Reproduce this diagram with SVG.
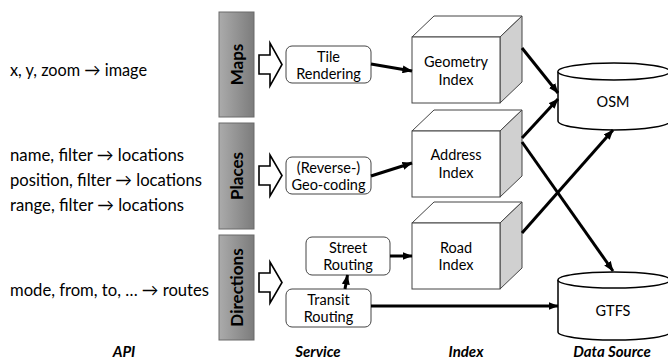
<svg xmlns="http://www.w3.org/2000/svg" width="668" height="360" viewBox="0 0 668 360">
  <defs>
    <linearGradient id="barFill" x1="0" y1="0" x2="1" y2="0">
      <stop offset="0" stop-color="#ababab"/>
      <stop offset="1" stop-color="#7c7c7c"/>
    </linearGradient>
    <marker id="head" viewBox="0 0 10 8" refX="9.5" refY="4" markerWidth="10" markerHeight="8" markerUnits="userSpaceOnUse" orient="auto">
      <path d="M0,0 L10,4 L0,8 Z" fill="#000"/>
    </marker>
    <style>
      .api { font-family: Lato, "Liberation Sans", sans-serif; font-size: 17px; fill: #000; }
      .col { font-family: Lato, "Liberation Sans", sans-serif; font-size: 15px; font-weight: bold; font-style: italic; fill: #000; text-anchor: middle; }
      .bar { fill: url(#barFill); stroke: #6a6a6a; stroke-width: 1; }
      .barlabel { font-family: Lato, "Liberation Sans", sans-serif; font-size: 17px; font-weight: bold; fill: #000; text-anchor: middle; }
      .blk { fill: #fff; stroke: #000; stroke-width: 1.6; stroke-linejoin: miter; }
      .svc { fill: #fff; stroke: #444; stroke-width: 1; }
      .lbl { font-family: Lato, "Liberation Sans", sans-serif; font-size: 14.5px; fill: #000; text-anchor: middle; }
      .front { fill: #fff; stroke: #444; stroke-width: 1; }
      .side { fill: #d0d0d0; stroke: #444; stroke-width: 1; }
      .cyl { fill: #fff; stroke: #000; stroke-width: 1.5; }
      .edge { fill: none; stroke: #000; stroke-width: 3; marker-end: url(#head); }
    </style>
  </defs>

  <rect width="668" height="360" fill="#fff"/>

  <!-- API column -->
  <g id="api">
    <text class="api" x="10" y="76" textLength="137" lengthAdjust="spacingAndGlyphs">x, y, zoom → image</text>
    <text class="api" x="10" y="161" textLength="174" lengthAdjust="spacingAndGlyphs">name, filter → locations</text>
    <text class="api" x="10" y="186" textLength="192" lengthAdjust="spacingAndGlyphs">position, filter → locations</text>
    <text class="api" x="10" y="211" textLength="174" lengthAdjust="spacingAndGlyphs">range, filter → locations</text>
    <text class="api" x="10" y="296" textLength="199" lengthAdjust="spacingAndGlyphs">mode, from, to, … → routes</text>
  </g>

  <!-- Category bars -->
  <g id="bar-maps">
    <rect class="bar" x="219" y="12" width="35" height="105"/>
    <text class="barlabel" transform="translate(242.5,64.5) rotate(-90)">Maps</text>
  </g>
  <g id="bar-places">
    <rect class="bar" x="219" y="123" width="35" height="106"/>
    <text class="barlabel" transform="translate(242.5,176) rotate(-90)">Places</text>
  </g>
  <g id="bar-directions">
    <rect class="bar" x="219" y="235" width="35" height="105"/>
    <text class="barlabel" transform="translate(242.5,287.5) rotate(-90)">Directions</text>
  </g>

  <!-- Block arrows -->
  <g id="blk-maps"><polygon class="blk" points="259,55 270,55 270,43 282,64.5 270,86 270,74 259,74"/></g>
  <g id="blk-places"><polygon class="blk" points="259,166 270,166 270,155 282,175.5 270,196 270,185 259,185"/></g>
  <g id="blk-directions"><polygon class="blk" points="259,273 270,273 270,262 282,282.5 270,303 270,292 259,292"/></g>

  <!-- Services -->
  <g id="svc-tile">
    <rect class="svc" x="286" y="46" width="85" height="37" rx="6"/>
    <text class="lbl" x="328.5" y="62">Tile</text>
    <text class="lbl" x="328.5" y="79">Rendering</text>
  </g>
  <g id="svc-geocoding">
    <rect class="svc" x="286" y="157" width="85" height="37" rx="6"/>
    <text class="lbl" x="328.5" y="173">(Reverse-)</text>
    <text class="lbl" x="328.5" y="190">Geo-coding</text>
  </g>
  <g id="svc-street">
    <rect class="svc" x="306" y="237" width="84" height="38" rx="6"/>
    <text class="lbl" x="348" y="253">Street</text>
    <text class="lbl" x="348" y="270">Routing</text>
  </g>
  <g id="svc-transit">
    <rect class="svc" x="286" y="289" width="85" height="38" rx="6"/>
    <text class="lbl" x="328.5" y="305">Transit</text>
    <text class="lbl" x="328.5" y="322">Routing</text>
  </g>

  <!-- Indexes -->
  <g id="idx-geometry">
    <polygon class="front" points="412,37 434,16 522,16 500,37"/>
    <polygon class="side" points="500,37 522,16 522,82 500,103"/>
    <rect class="front" x="412" y="37" width="88" height="66"/>
    <text class="lbl" x="456" y="67">Geometry</text>
    <text class="lbl" x="456" y="85">Index</text>
  </g>
  <g id="idx-address">
    <polygon class="front" points="412,131 434,110 522,110 500,131"/>
    <polygon class="side" points="500,131 522,110 522,176 500,197"/>
    <rect class="front" x="412" y="131" width="88" height="66"/>
    <text class="lbl" x="456" y="160">Address</text>
    <text class="lbl" x="456" y="178">Index</text>
  </g>
  <g id="idx-road">
    <polygon class="front" points="412,223 434,202 522,202 500,223"/>
    <polygon class="side" points="500,223 522,202 522,268 500,289"/>
    <rect class="front" x="412" y="223" width="88" height="66"/>
    <text class="lbl" x="456" y="253">Road</text>
    <text class="lbl" x="456" y="270">Index</text>
  </g>

  <!-- Data sources -->
  <g id="ds-osm">
    <path class="cyl" d="M558,71.5 L558,121 A56,9 0 0 0 670,121 L670,71.5 A56,8.5 0 0 0 558,71.5 Z"/>
    <path class="cyl" d="M558,71.5 A56,8.5 0 0 0 670,71.5"/>
    <text class="lbl" x="613" y="107">OSM</text>
  </g>
  <g id="ds-gtfs">
    <path class="cyl" d="M558,280 L558,332 A56,8 0 0 0 670,332 L670,280 A56,8 0 0 0 558,280 Z"/>
    <path class="cyl" d="M558,280 A56,8 0 0 0 670,280"/>
    <text class="lbl" x="613" y="316">GTFS</text>
  </g>

  <!-- Connectors -->
  <g id="connectors">
    <line class="edge" x1="371" y1="64" x2="412" y2="71"/>
    <line class="edge" x1="371" y1="176" x2="412" y2="163"/>
    <line class="edge" x1="345" y1="289" x2="347.5" y2="275"/>
    <line class="edge" x1="390" y1="256" x2="412" y2="256"/>
    <line class="edge" x1="371" y1="306" x2="558" y2="306"/>
    <line class="edge" x1="522" y1="48" x2="558" y2="93"/>
    <line class="edge" x1="522" y1="138" x2="558" y2="99"/>
    <line class="edge" x1="522" y1="142" x2="613" y2="271"/>
    <line class="edge" x1="522" y1="233" x2="613" y2="130"/>
  </g>

  <!-- Column headings -->
  <g id="headings">
    <text class="col" x="124" y="357">API</text>
    <text class="col" x="318" y="357">Service</text>
    <text class="col" x="466" y="357">Index</text>
    <text class="col" x="612" y="357">Data Source</text>
  </g>
</svg>
